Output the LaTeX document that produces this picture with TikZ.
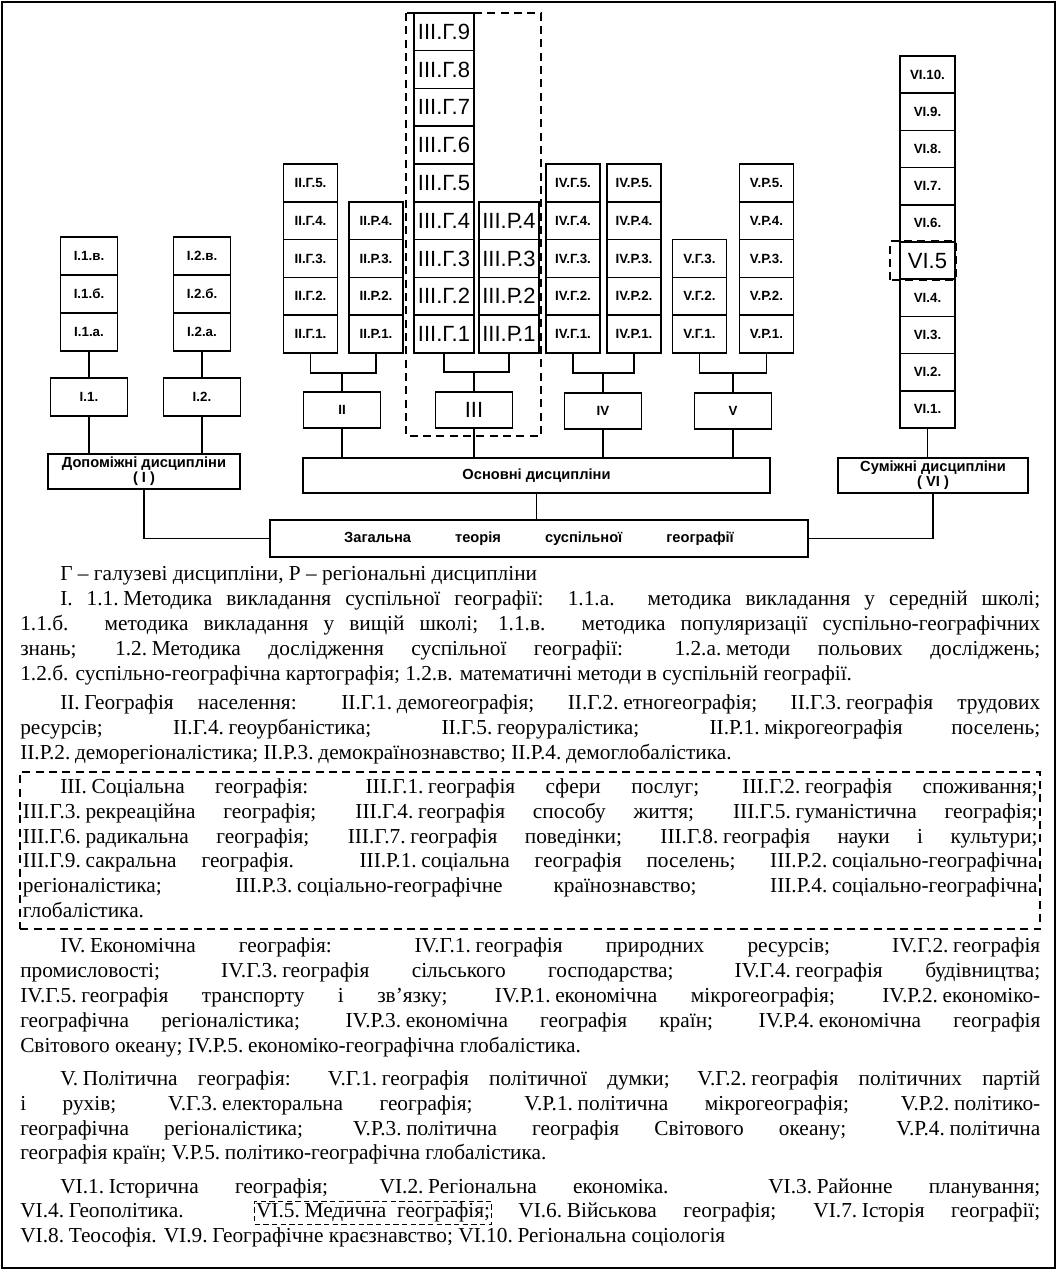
\documentclass[tikz,border=0pt]{standalone}
\usepackage{fontspec}
\setmainfont{Liberation Serif}
\newfontfamily\cellfont{Liberation Sans}
\usetikzlibrary{positioning}
\newcommand{\ns}{\hspace{0.22em}}
\tolerance=9999 \hbadness=10000 \hyphenpenalty=10000 \exhyphenpenalty=10000
\lineskiplimit=-6pt

\tikzset{
  wire/.style={line width=1.1pt},
  cell/.style={draw, line width=1.1pt, minimum width=40.5pt, minimum height=28.35pt, inner sep=0pt,
    font=\cellfont\bfseries\fontsize{10}{11}\selectfont},
  bigcell/.style={cell, minimum width=45pt, font=\cellfont\fontsize{16.5}{18}\selectfont},
  grp/.style={draw, line width=1.1pt, minimum width=57.75pt, minimum height=27pt, inner sep=0pt,
    font=\cellfont\bfseries\fontsize{10}{11}\selectfont},
  hub/.style={grp, minimum height=26.25pt, align=center, font=\cellfont\bfseries\fontsize{11}{11}\selectfont},
  hilite/.style={draw, dash pattern=on 6pt off 4pt, line width=1.6pt},
  para/.style={text width=765pt, align=justify, inner sep=0pt, font=\fontsize{16}{18.6}\selectfont},
}

\begin{document}
\begin{tikzpicture}[x=0.75pt, y=-0.75pt]
  \useasboundingbox (0,0) rectangle (1057,1270);
  \draw[line width=1.5pt] (2,2) rectangle (1055,1268);

  % stacks of the auxiliary disciplines
  \foreach \s/\k in {а/1,б/2,в/3}{
    \node[cell, minimum width=42.75pt] (i1-\k) at (89,{351-(\k-0.5)*38}) {I.1.\s.};
    \node[cell, minimum width=42.75pt] (i2-\k) at (202,{351-(\k-0.5)*38}) {I.2.\s.};
  }
  \node[grp, minimum height=28.5pt] (b11) at (89,397) {I.1.};
  \node[grp, minimum height=28.5pt] (b12) at (202,397) {I.2.};

  % stacks of the main disciplines
  \foreach \nm/\lab/\x/\m in {g2/II.Г/310.5/5, r2/II.Р/376/4, g4/IV.Г/573/5, r4/IV.Р/634/5, g5/V.Г/699.5/3, r5/V.Р/766.5/5}
    \foreach \k in {1,...,\m}
      \node[cell] (\nm-\k) at (\x,{353-(\k-0.5)*37.8}) {\lab.\k.};
  \foreach \nm/\lab/\x/\m in {g3/III.Г/444/9, r3/III.Р/509/4}
    \foreach \k in {1,...,\m}
      \node[bigcell] (\nm-\k) at (\x,{353-(\k-0.5)*37.8}) {\lab.\k};

  % stack of the adjacent disciplines
  \foreach \k in {1,...,10}{
    \ifnum\k=5
      \node[bigcell, minimum width=41.25pt] (vi-\k) at (927.5,{428-(\k-0.5)*37.2}) {VI.5};
    \else
      \node[cell, minimum width=41.25pt, minimum height=27.9pt] (vi-\k) at (927.5,{428-(\k-0.5)*37.2}) {VI.\k.};
    \fi
  }

  \node[grp] (b2) at (342,410) {II};
  \node[grp, font=\cellfont\fontsize{16.5}{18}\selectfont] (b3) at (474,410) {III};
  \node[grp] (b4) at (603,411) {IV};
  \node[grp] (b5) at (733,411) {V};

  \node[hub, minimum width=144pt] (dop) at (144,471.5) {Допоміжні дисципліни\\( I )};
  \node[hub, minimum width=350.25pt] (osn) at (536.5,475.5) {Основні дисципліни};
  \node[hub, minimum width=142.5pt] (sum) at (933,475.5) {Суміжні дисципліни\\( VI )};
  \node[hub, minimum width=403.5pt, minimum height=27.75pt] (zag) at (539,538.5)
    {Загальна\hspace{3em}теорія\hspace{3em}суспільної\hspace{3em}географії};

  % brackets
  \coordinate (j2) at (342,373);
  \coordinate (j3) at (474,372);
  \coordinate (j4) at (603,373);
  \coordinate (j5) at (733,373);
  \draw[wire] (g2-1.south) |- (j2) -| (r2-1.south);
  \draw[wire] (g3-1.south) |- (j3) -| (r3-1.south);
  \draw[wire] (g4-1.south) |- (j4) -| (r4-1.south);
  \draw[wire] (g5-1.south) |- (j5) -| (r5-1.south);
  \foreach \n in {2,...,5}{
    \draw[wire] (j\n) -- (b\n);
    \draw[wire] (b\n) -- (b\n |- osn.north);
  }
  \draw[wire] (i1-1) -- (b11);
  \draw[wire] (i2-1) -- (b12);
  \draw[wire] (b11) -- (b11 |- dop.north);
  \draw[wire] (b12) -- (b12 |- dop.north);
  \draw[wire] (vi-1) -- (vi-1 |- sum.north);
  \draw[wire] (dop) |- (zag);
  \draw[wire] (sum) |- (zag);
  \draw[wire] (osn) -- (osn |- zag.north);

  % highlighted groups
  \draw[hilite] (406,13) rectangle (541,436);
  \draw[hilite] ([xshift=-7pt]vi-5.south west) rectangle (vi-5.north east);

  % explanation
  \node[para, anchor=north west] (p0) at (20,563)
    {\strut\hspace*{30pt}Г – галузеві дисципліни, Р – регіональні дисципліни\strut};
  \node[para, below=0pt of p0] (p1)
    {\strut\hspace*{30pt}I. 1.1.\ns Методика викладання суспільної географії: 1.1.а. методика викладання у середній школі;\linebreak
     1.1.б. методика викладання у вищій школі; 1.1.в. методика популяризації суспільно-географічних\linebreak
     знань; 1.2.\ns Методика дослідження суспільної географії: 1.2.а.\ns методи польових досліджень;\linebreak
     1.2.б. суспільно-географічна картографія; 1.2.в. математичні методи в суспільній географії.\strut};
  \node[para, below=3pt of p1] (p2)
    {\strut\hspace*{30pt}II.\ns Географія населення: II.Г.1.\ns демогеографія; II.Г.2.\ns етногеографія; II.Г.3.\ns географія трудових\linebreak
     ресурсів; II.Г.4.\ns геоурбаністика; II.Г.5.\ns георуралістика; II.Р.1.\ns мікрогеографія поселень;\linebreak
     II.Р.2.\ns деморегіоналістика; II.Р.3.\ns демокраїнознавство; II.Р.4.\ns демоглобалістика.\strut};
  \node[para, draw, dash pattern=on 6pt off 4pt, line width=1.6pt, text width=761pt, inner xsep=2pt, inner ysep=3pt,
    below=3pt of p2] (p3)
    {\strut\hspace*{28pt}III.\ns Соціальна географія: III.Г.1.\ns географія сфери послуг; III.Г.2.\ns географія споживання;\linebreak
     III.Г.3.\ns рекреаційна географія; III.Г.4.\ns географія способу життя; III.Г.5.\ns гуманістична географія;\linebreak
     III.Г.6.\ns радикальна географія; III.Г.7.\ns географія поведінки; III.Г.8.\ns географія науки і культури;\linebreak
     III.Г.9.\ns сакральна географія. III.Р.1.\ns соціальна географія поселень; III.Р.2.\ns соціально-географічна\linebreak
     регіоналістика; III.Р.3.\ns соціально-географічне країнознавство; III.Р.4.\ns соціально-географічна\linebreak
     глобалістика.\strut};
  \node[para, below=4pt of p3] (p4)
    {\strut\hspace*{30pt}IV.\ns Економічна географія: IV.Г.1.\ns географія природних ресурсів; IV.Г.2.\ns географія\linebreak
     промисловості; IV.Г.3.\ns географія сільського господарства; IV.Г.4.\ns географія будівництва;\linebreak
     IV.Г.5.\ns географія транспорту і зв’язку; IV.Р.1.\ns економічна мікрогеографія; IV.Р.2.\ns економіко-\linebreak
     географічна регіоналістика; IV.Р.3.\ns економічна географія країн; IV.Р.4.\ns економічна географія\linebreak
     Світового океану; IV.Р.5.\ns економіко-географічна глобалістика.\strut};
  \node[para, below=6pt of p4] (p5)
    {\strut\hspace*{30pt}V.\ns Політична географія: V.Г.1.\ns географія політичної думки; V.Г.2.\ns географія політичних партій\linebreak
     і рухів; V.Г.3.\ns електоральна географія; V.Р.1.\ns політична мікрогеографія; V.Р.2.\ns політико-\linebreak
     географічна регіоналістика; V.Р.3.\ns політична географія Світового океану; V.Р.4.\ns політична\linebreak
     географія країн; V.Р.5.\ns політико-географічна глобалістика.\strut};
  \node[para, below=6pt of p5] (p6)
    {\strut\hspace*{30pt}VI.1.\ns Історична географія; VI.2.\ns Регіональна економіка. VI.3.\ns Районне планування;\linebreak
     VI.4.\ns Геополітика. \tikz[baseline=(med.base)]\node[draw, dash pattern=on 4pt off 2.5pt, line width=0.8pt,
       text width={}, align=left, inner xsep=1pt, inner ysep=1.5pt] (med) {VI.5.\ns Медична\ \ географія;};
     VI.6.\ns Військова географія; VI.7.\ns Історія географії;\linebreak
     VI.8.\ns Теософія. VI.9.\ns Географічне краєзнавство; VI.10.\ns Регіональна соціологія\strut};
\end{tikzpicture}
\end{document}
